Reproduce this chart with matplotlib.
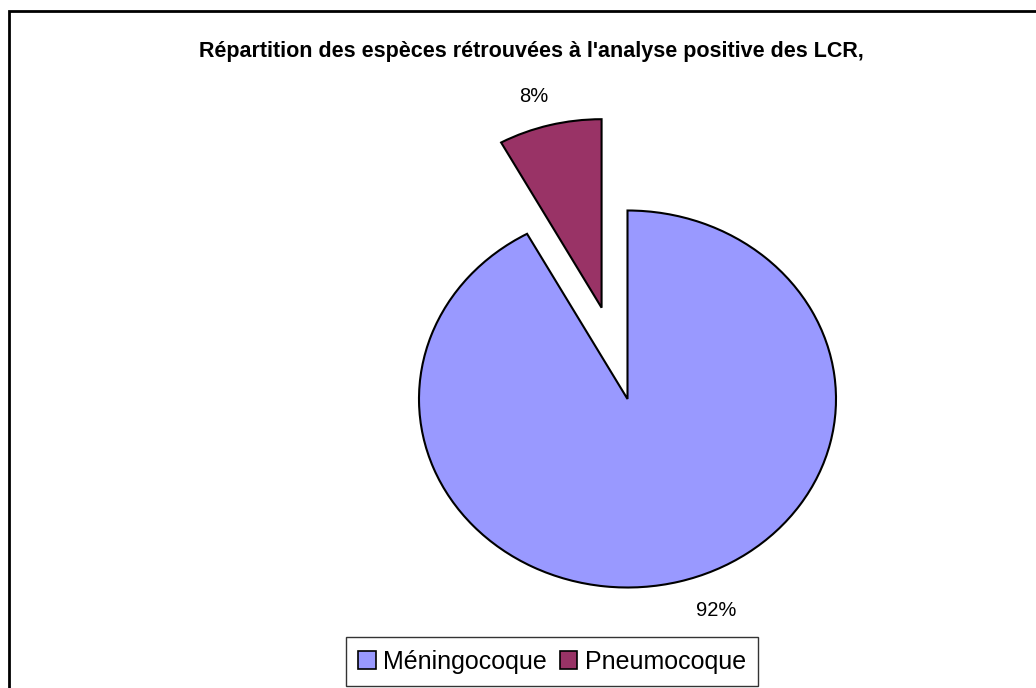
"""Pie chart: species found in positive CSF (LCR) analyses."""

import matplotlib

matplotlib.use("Agg")
import matplotlib.pyplot as plt
from matplotlib.patches import Rectangle

plt.rcParams["font.family"] = ["Liberation Sans", "DejaVu Sans"]

# data
especes = ["Méningocoque", "Pneumocoque"]
pourcentages = [92, 8]
couleurs = ["#9999FF", "#993366"]
ecart = [0.0, 0.5]

W, H = 1036, 688
fig = plt.figure(figsize=(W / 100, H / 100), dpi=100)

# Excel draws the pie slightly squashed: 208 px wide radius, 188 px tall
rx, ry = 208.5, 188.5
cx, cy = 627.5, H - 399
ax = fig.add_axes([(cx - 2.5 * rx) / W, (cy - 1.5 * ry) / H, 5 * rx / W, 3 * ry / H])

wedges, texts, autotexts = ax.pie(
    pourcentages,
    colors=couleurs,
    explode=ecart,
    startangle=90,
    counterclock=False,
    autopct="%1.0f%%",
    wedgeprops=dict(edgecolor="black", linewidth=1.5),
    textprops=dict(fontsize=14.5, color="black"),
)
ax.set_aspect("auto")
ax.set_xlim(-2.5, 2.5)
ax.set_ylim(-1.5, 1.5)
ax.axis("off")

# Excel places the percentage labels just outside the slices
autotexts[0].set_position((0.424, -1.12))
autotexts[1].set_position((-0.448, 1.607))

fig.text(
    531 / W, 1 - 51 / H,
    "Répartition des espèces rétrouvées à l'analyse positive des LCR,",
    ha="center", va="center", fontsize=15.5, fontweight="bold",
)

leg = fig.legend(
    wedges, especes,
    loc="center", bbox_to_anchor=(552 / W, 1 - 661.5 / H),
    ncol=2, fontsize=18, frameon=True, fancybox=False,
    handlelength=0.7, handleheight=0.7, handletextpad=0.3,
    columnspacing=0.5, borderpad=0.5,
)
leg.get_frame().set_edgecolor("black")
leg.get_frame().set_linewidth(1.0)
for h in leg.legend_handles:
    h.set_linewidth(1.2)

# chart area frame, cut off on the right and bottom like the reference
fig.patches.append(
    Rectangle((8.5 / W, -0.1), 1.5, 1.1 - 10.5 / H, transform=fig.transFigure,
              fill=False, edgecolor="black", linewidth=2)
)

fig.savefig("out.png", dpi=100)
